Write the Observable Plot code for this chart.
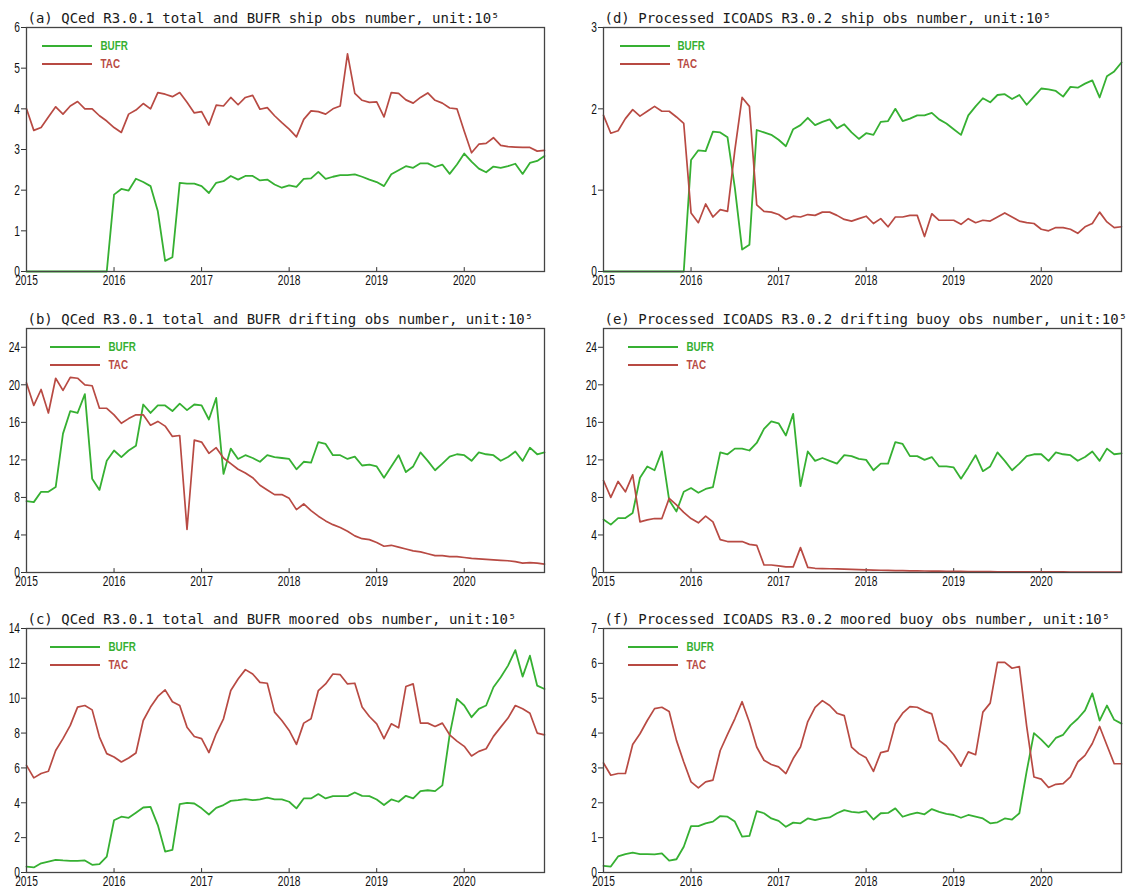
<!DOCTYPE html>
<html><head><meta charset="utf-8">
<script src="https://cdn.jsdelivr.net/npm/d3@7"></script>
<script src="https://cdn.jsdelivr.net/npm/@observablehq/plot@0.6"></script>
<style>
body{margin:0;background:#fff;}
#wrap{position:relative;width:1130px;height:892px;overflow:hidden;background:#fff;}
.panel{position:absolute;}
</style></head><body><div id="wrap"></div>
<script>
// monthly time axis Jan 2015 .. Dec 2020
const months = d3.range(72).map(i => 2015 + i / 12);
const yearTicks = [2015, 2016, 2017, 2018, 2019, 2020];

// (a) QCed R3.0.1 ship
const shipQC_TAC = [4.0,3.47,3.54,3.8,4.05,3.87,4.07,4.18,4.0,4.0,3.83,3.7,3.54,3.42,3.87,3.97,4.13,4.0,4.4,4.36,4.3,4.4,4.16,3.9,3.93,3.6,4.09,4.07,4.28,4.1,4.28,4.33,3.99,4.03,3.83,3.66,3.5,3.31,3.74,3.95,3.93,3.87,4.0,4.07,5.35,4.38,4.21,4.16,4.17,3.8,4.4,4.38,4.22,4.14,4.28,4.39,4.21,4.14,4.02,4.0,3.45,2.92,3.13,3.15,3.29,3.1,3.07,3.06,3.05,3.05,2.96,2.98];
const shipQC_BUFR = [0,0,0,0,0,0,0,0,0,0,0,0,1.89,2.03,1.99,2.28,2.2,2.1,1.48,0.26,0.35,2.18,2.16,2.16,2.1,1.93,2.18,2.22,2.35,2.26,2.35,2.35,2.24,2.26,2.14,2.06,2.12,2.08,2.28,2.29,2.45,2.28,2.33,2.37,2.37,2.39,2.33,2.26,2.2,2.1,2.39,2.49,2.59,2.55,2.66,2.66,2.57,2.63,2.4,2.63,2.9,2.7,2.53,2.44,2.58,2.55,2.59,2.65,2.4,2.67,2.72,2.84];
// (b) QCed R3.0.1 drifting
const driftQC_TAC = [20.2,17.8,19.5,17.0,20.7,19.4,20.8,20.7,20.0,19.9,17.5,17.5,16.8,15.9,16.4,16.8,16.8,15.7,16.1,15.6,14.5,14.6,4.6,14.1,13.9,12.7,13.3,12.2,11.6,11.0,10.6,10.1,9.3,8.8,8.3,8.3,7.9,6.7,7.3,6.6,6.0,5.5,5.1,4.8,4.4,3.9,3.6,3.5,3.2,2.8,2.9,2.7,2.5,2.3,2.2,2.0,1.8,1.8,1.7,1.7,1.6,1.5,1.45,1.4,1.35,1.3,1.25,1.15,1.0,1.05,1.0,0.9];
const driftQC_BUFR = [7.6,7.5,8.6,8.6,9.1,14.8,17.2,17.0,19.0,10.0,8.8,11.9,13.0,12.3,13.0,13.5,17.9,17.0,17.8,17.8,17.2,18.0,17.3,17.9,17.8,16.3,18.6,10.5,13.2,12.1,12.5,12.2,11.8,12.5,12.3,12.2,12.1,11.0,11.8,11.7,13.9,13.7,12.5,12.5,12.1,12.35,11.4,11.5,11.3,10.1,11.3,12.5,10.7,11.3,12.8,11.9,10.9,11.6,12.35,12.6,12.5,11.9,12.8,12.6,12.5,11.9,12.3,12.9,11.9,13.3,12.6,12.8];
// (c) QCed R3.0.1 moored
const mooredQC_TAC = [6.15,5.43,5.68,5.81,7.0,7.68,8.44,9.49,9.58,9.33,7.77,6.82,6.63,6.34,6.57,6.86,8.72,9.49,10.1,10.48,9.8,9.58,8.34,7.8,7.68,6.88,7.96,8.82,10.44,11.1,11.64,11.39,10.91,10.86,9.2,8.72,8.15,7.35,8.57,8.82,10.44,10.82,11.39,11.35,10.82,10.86,9.49,8.95,8.53,7.68,8.53,8.3,10.67,10.82,8.57,8.57,8.38,8.57,7.9,7.54,7.24,6.69,6.95,7.1,7.81,8.34,8.86,9.58,9.39,9.14,8.0,7.9];
const mooredQC_BUFR = [0.34,0.29,0.53,0.63,0.72,0.69,0.67,0.67,0.69,0.44,0.48,0.91,3.0,3.2,3.14,3.43,3.73,3.77,2.72,1.2,1.3,3.92,4.0,3.96,3.68,3.33,3.71,3.87,4.11,4.15,4.21,4.15,4.19,4.29,4.19,4.19,4.06,3.68,4.25,4.25,4.5,4.25,4.38,4.38,4.38,4.59,4.4,4.38,4.19,3.87,4.19,4.06,4.4,4.25,4.67,4.72,4.67,5.0,7.9,9.96,9.58,8.91,9.39,9.58,10.63,11.2,11.87,12.76,11.24,12.44,10.72,10.53];
// (d) Processed ICOADS R3.0.2 ship
const shipIC_TAC = [1.92,1.7,1.73,1.88,1.99,1.91,1.97,2.03,1.97,1.97,1.9,1.82,0.72,0.6,0.83,0.67,0.76,0.74,1.49,2.14,2.03,0.82,0.74,0.73,0.7,0.64,0.68,0.67,0.7,0.69,0.73,0.73,0.69,0.64,0.62,0.65,0.68,0.59,0.65,0.55,0.67,0.67,0.69,0.69,0.43,0.71,0.63,0.63,0.63,0.58,0.65,0.6,0.63,0.62,0.67,0.72,0.67,0.62,0.6,0.59,0.52,0.5,0.54,0.54,0.52,0.47,0.55,0.59,0.73,0.61,0.54,0.55];
const shipIC_BUFR = [0,0,0,0,0,0,0,0,0,0,0,0,1.37,1.49,1.48,1.72,1.71,1.65,1.03,0.27,0.33,1.74,1.71,1.68,1.62,1.54,1.75,1.8,1.89,1.8,1.84,1.87,1.76,1.81,1.71,1.63,1.7,1.68,1.84,1.85,2.0,1.85,1.88,1.92,1.92,1.95,1.87,1.82,1.75,1.68,1.92,2.03,2.13,2.08,2.17,2.18,2.12,2.17,2.05,2.15,2.25,2.24,2.22,2.15,2.27,2.26,2.31,2.35,2.14,2.4,2.46,2.57];
// (e) Processed ICOADS R3.0.2 drifting buoy
const driftIC_TAC = [9.8,8.0,9.7,8.6,10.4,5.4,5.6,5.75,5.75,7.9,7.2,6.4,5.75,5.3,6.0,5.4,3.5,3.3,3.3,3.3,3.0,2.9,0.8,0.8,0.7,0.6,0.6,2.65,0.55,0.45,0.42,0.4,0.38,0.35,0.33,0.3,0.28,0.26,0.24,0.22,0.2,0.19,0.18,0.17,0.16,0.15,0.14,0.13,0.12,0.11,0.1,0.1,0.09,0.09,0.08,0.08,0.08,0.07,0.07,0.07,0.06,0.06,0.06,0.06,0.05,0.05,0.05,0.05,0.05,0.05,0.05,0.05];
const driftIC_BUFR = [5.65,5.1,5.8,5.8,6.35,10.1,11.3,10.9,12.9,7.7,6.5,8.6,9.0,8.5,8.9,9.1,12.8,12.6,13.2,13.2,13.0,13.8,15.3,16.1,15.9,14.6,16.9,9.2,12.9,11.9,12.2,11.9,11.6,12.5,12.4,12.1,12.0,10.9,11.6,11.6,13.9,13.7,12.4,12.4,12.0,12.3,11.3,11.3,11.2,10.0,11.2,12.5,10.8,11.3,12.8,11.9,10.9,11.6,12.4,12.6,12.6,11.9,12.8,12.6,12.5,11.9,12.3,12.9,11.9,13.2,12.6,12.7];
// (f) Processed ICOADS R3.0.2 moored buoy
const mooredIC_TAC = [3.14,2.79,2.84,2.84,3.67,3.98,4.36,4.7,4.74,4.62,3.79,3.17,2.6,2.43,2.6,2.65,3.5,3.96,4.41,4.9,4.31,3.6,3.22,3.1,3.03,2.84,3.27,3.6,4.33,4.74,4.93,4.79,4.57,4.5,3.6,3.41,3.29,2.9,3.44,3.49,4.27,4.57,4.76,4.74,4.63,4.55,3.79,3.63,3.38,3.05,3.46,3.38,4.6,4.86,6.03,6.03,5.86,5.91,4.2,2.74,2.68,2.44,2.53,2.55,2.74,3.17,3.36,3.7,4.19,3.65,3.12,3.12];
const mooredIC_BUFR = [0.19,0.17,0.46,0.53,0.57,0.53,0.53,0.52,0.55,0.34,0.38,0.74,1.33,1.33,1.41,1.46,1.62,1.6,1.46,1.03,1.05,1.76,1.7,1.55,1.48,1.31,1.43,1.41,1.55,1.5,1.55,1.58,1.7,1.79,1.74,1.72,1.76,1.52,1.7,1.71,1.84,1.6,1.67,1.72,1.67,1.82,1.74,1.68,1.65,1.57,1.65,1.6,1.55,1.41,1.44,1.55,1.52,1.7,2.9,4.0,3.81,3.6,3.86,3.95,4.22,4.41,4.65,5.14,4.36,4.79,4.38,4.27];

const titles = [
  "(a) QCed R3.0.1 total and BUFR ship obs number, unit:10\u2075",
  "(b) QCed R3.0.1 total and BUFR drifting obs number, unit:10\u2075",
  "(c) QCed R3.0.1 total and BUFR moored obs number, unit:10\u2075",
  "(d) Processed ICOADS R3.0.2 ship obs number, unit:10\u2075",
  "(e) Processed ICOADS R3.0.2 drifting buoy obs number, unit:10\u2075",
  "(f) Processed ICOADS R3.0.2 moored buoy obs number, unit:10\u2075"
];
const yTicks = [
  [0,1,2,3,4,5,6],
  [0,4,8,12,16,20,24],
  [0,2,4,6,8,10,12,14],
  [0,1,2,3],
  [0,4,8,12,16,20,24],
  [0,1,2,3,4,5,6,7]
];
const yMax = [6, 26, 14, 3, 26, 7];
const seriesNames = ["BUFR", "TAC"];

const GREEN = "#36b032", RED = "#b84a43";
const SANS = "'Liberation Sans',Arial,sans-serif";

const panels = [
  {t:0, bufr:shipQC_BUFR,   tac:shipQC_TAC,   col:0, row:0, leg:{x1:16,x2:66,lx:74}},
  {t:1, bufr:driftQC_BUFR,  tac:driftQC_TAC,  col:0, row:1, leg:{x1:24,x2:74,lx:82}},
  {t:2, bufr:mooredQC_BUFR, tac:mooredQC_TAC, col:0, row:2, leg:{x1:24,x2:74,lx:82}},
  {t:3, bufr:shipIC_BUFR,   tac:shipIC_TAC,   col:1, row:0, leg:{x1:17,x2:67,lx:74}},
  {t:4, bufr:driftIC_BUFR,  tac:driftIC_TAC,  col:1, row:1, leg:{x1:25,x2:75,lx:83}},
  {t:5, bufr:mooredIC_BUFR, tac:mooredIC_TAC, col:1, row:2, leg:{x1:25,x2:75,lx:83}}
];
const legDy = [19, 37];

const ML = 26, MR = 8, MT = 26, MB = 22, FW = 518, FH = 244;
const colLeft = [0, 577];
const rowTop = [1, 302, 602];
const wrap = document.getElementById("wrap");

function condense(sel, k) {
  sel.each(function () {
    const L = this.getComputedTextLength();
    if (L > 0) {
      this.setAttribute("textLength", (L * k).toFixed(2));
      this.setAttribute("lengthAdjust", "spacingAndGlyphs");
    }
  });
}

for (const p of panels) {
  const ym = yMax[p.t];
  const plot = Plot.plot({
    width: ML + FW + MR,
    height: MT + FH + MB,
    marginLeft: ML, marginRight: MR, marginTop: MT, marginBottom: MB,
    style: {background: "transparent", overflow: "visible"},
    x: {domain: [months[0], months[months.length - 1]]},
    y: {domain: [0, ym]},
    marks: [
      Plot.axisY(yTicks[p.t], {tickSize: 5, tickPadding: 1.5, fontSize: 15, fontFamily: SANS, stroke: "#333", fill: "#111", tickFormat: d => String(d), label: null}),
      Plot.axisX(yearTicks, {tickSize: 0, tickPadding: 3, fontSize: 15, fontFamily: SANS, fill: "#111", tickFormat: d => String(d), label: null}),
      Plot.ruleX(yearTicks, {x: d => d, y1: 0, y2: ym * 0.016, stroke: "#333", strokeWidth: 1}),
      Plot.lineY(p.bufr, {x: (d, i) => months[i], y: d => d, stroke: GREEN, strokeWidth: 1.8}),
      Plot.lineY(p.tac, {x: (d, i) => months[i], y: d => d, stroke: RED, strokeWidth: 1.7}),
      Plot.frame({stroke: "#444", strokeWidth: 1.3}),
      Plot.text([titles[p.t]], {text: d => d, frameAnchor: "top-left", dx: 1, dy: -5, lineAnchor: "bottom", textAnchor: "start", fontFamily: "'DejaVu Sans Mono',monospace", fontSize: 14, fill: "#1a1a1a"}),
      Plot.text([seriesNames[0]], {text: d => d, frameAnchor: "top-left", dx: p.leg.lx, dy: legDy[0], lineAnchor: "middle", textAnchor: "start", fontFamily: SANS, fontWeight: "bold", fontSize: 12, fill: GREEN}),
      Plot.text([seriesNames[1]], {text: d => d, frameAnchor: "top-left", dx: p.leg.lx, dy: legDy[1], lineAnchor: "middle", textAnchor: "start", fontFamily: SANS, fontWeight: "bold", fontSize: 12, fill: RED})
    ]
  });
  // legend sample lines (decoration)
  const svg = d3.select(plot);
  [GREEN, RED].forEach((c, k) => {
    svg.append("line")
      .attr("x1", ML + p.leg.x1).attr("x2", ML + p.leg.x2)
      .attr("y1", MT + legDy[k]).attr("y2", MT + legDy[k])
      .attr("stroke", c).attr("stroke-width", 1.8);
  });
  const div = document.createElement("div");
  div.className = "panel";
  div.style.left = colLeft[p.col] + "px";
  div.style.top = rowTop[p.row] + "px";
  div.appendChild(plot);
  wrap.appendChild(div);
  // narrow the tick-label and legend lettering like the original condensed face
  condense(svg.selectAll('g[aria-label="x-axis tick label"] text, g[aria-label="y-axis tick label"] text'), 0.68);
  condense(svg.selectAll('g[aria-label="text"] text').filter(function () { return seriesNames.includes(this.textContent); }), 0.82);
}
</script></body></html>
